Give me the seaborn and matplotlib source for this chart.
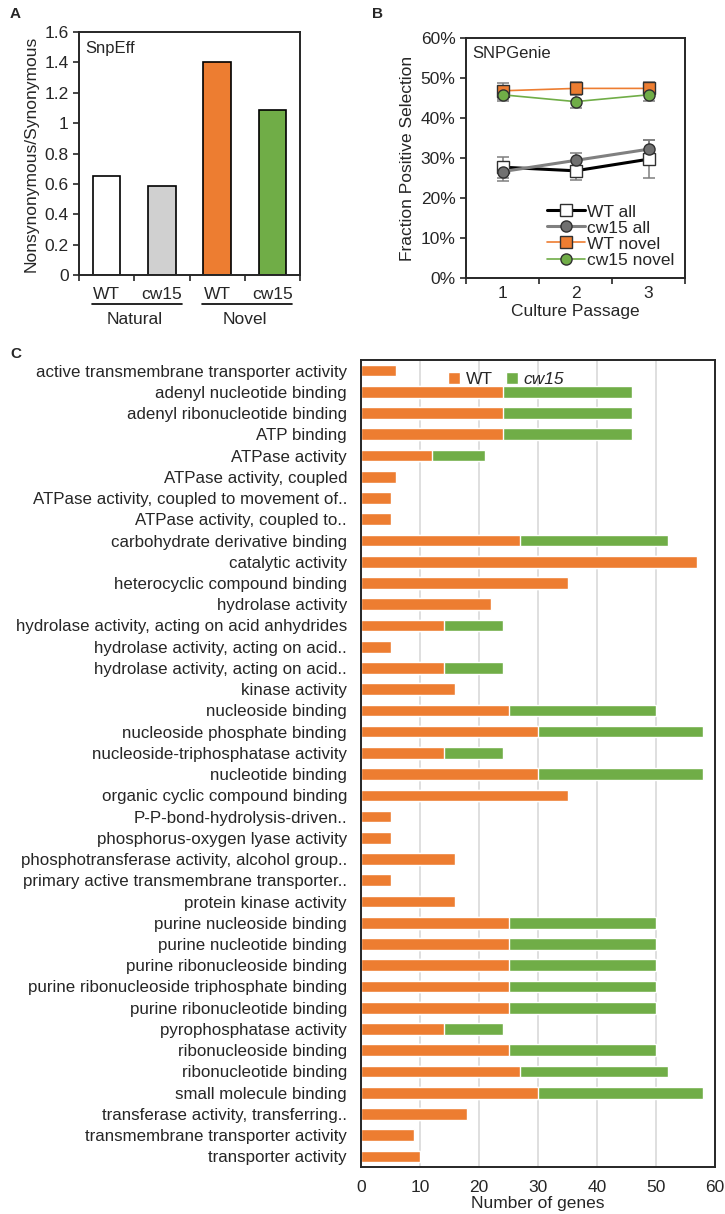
import numpy as np
import pandas as pd
import matplotlib
matplotlib.use("Agg")
import matplotlib.pyplot as plt
import matplotlib.transforms as mtransforms
from matplotlib.ticker import FuncFormatter, FixedLocator
import seaborn as sns

# ---------------------------------------------------------------------------
# Data
# ---------------------------------------------------------------------------

# Panel A: dN/dS ratio from SnpEff
a_bars = ["Natural WT", "Natural cw15", "Novel WT", "Novel cw15"]
a_strain = ["WT", "cw15", "WT", "cw15"]
a_groups = ["Natural", "Novel"]
a_values = [0.65, 0.585, 1.40, 1.085]

# Panel B: fraction of genes under positive selection (SNPGenie)
b_passage = [1, 2, 3]
b_series = ["WT all", "cw15 all", "WT novel", "cw15 novel"]
b_wt_all = [0.277, 0.268, 0.297]
b_wt_all_err = [0.026, 0.024, 0.047]
b_cw15_all = [0.266, 0.294, 0.322]
b_cw15_all_err = [0.023, 0.018, 0.023]
b_wt_novel = [0.468, 0.474, 0.474]
b_wt_novel_err = [0.020, 0.015, 0.015]
b_cw15_novel = [0.458, 0.441, 0.458]
b_cw15_novel_err = [0.016, 0.016, 0.016]

# Panel C: GO terms enriched among mutated genes
c_terms = [
    "active transmembrane transporter activity",
    "adenyl nucleotide binding",
    "adenyl ribonucleotide binding",
    "ATP binding",
    "ATPase activity",
    "ATPase activity, coupled",
    "ATPase activity, coupled to movement of..",
    "ATPase activity, coupled to..",
    "carbohydrate derivative binding",
    "catalytic activity",
    "heterocyclic compound binding",
    "hydrolase activity",
    "hydrolase activity, acting on acid anhydrides",
    "hydrolase activity, acting on acid..",
    "hydrolase activity, acting on acid..",
    "kinase activity",
    "nucleoside binding",
    "nucleoside phosphate binding",
    "nucleoside-triphosphatase activity",
    "nucleotide binding",
    "organic cyclic compound binding",
    "P-P-bond-hydrolysis-driven..",
    "phosphorus-oxygen lyase activity",
    "phosphotransferase activity, alcohol group..",
    "primary active transmembrane transporter..",
    "protein kinase activity",
    "purine nucleoside binding",
    "purine nucleotide binding",
    "purine ribonucleoside binding",
    "purine ribonucleoside triphosphate binding",
    "purine ribonucleotide binding",
    "pyrophosphatase activity",
    "ribonucleoside binding",
    "ribonucleotide binding",
    "small molecule binding",
    "transferase activity, transferring..",
    "transmembrane transporter activity",
    "transporter activity",
]
c_wt = [6, 24, 24, 24, 12, 6, 5, 5, 27, 57, 35, 22, 14, 5, 14, 16, 25, 30, 14,
        30, 35, 5, 5, 16, 5, 16, 25, 25, 25, 25, 25, 14, 25, 27, 30, 18, 9, 10]
c_cw15 = [0, 22, 22, 22, 9, 0, 0, 0, 25, 0, 0, 0, 10, 0, 10, 0, 25, 28, 10,
          28, 0, 0, 0, 0, 0, 0, 25, 25, 25, 25, 25, 10, 25, 25, 28, 0, 0, 0]

ORANGE = "#ED7D31"
GREEN = "#70AD47"

# ---------------------------------------------------------------------------
# Figure setup
# ---------------------------------------------------------------------------

sns.set_style("ticks")
plt.rcParams["font.family"] = ["Liberation Sans", "DejaVu Sans"]
plt.rcParams["axes.linewidth"] = 1.4

W, H = 725, 1214
fig = plt.figure(figsize=(W / 100, H / 100), dpi=100)


def px_axes(left, top, right, bottom):
    # Add an axes from pixel coordinates of the final image
    return fig.add_axes([left / W, 1 - bottom / H, (right - left) / W, (bottom - top) / H])


# ---------------------------------------------------------------------------
# Panel A
# ---------------------------------------------------------------------------

axA = px_axes(79, 32, 300, 275)
df_a = pd.DataFrame({"bar": a_bars, "value": a_values})
sns.barplot(data=df_a, x="bar", y="value", hue="bar",
            palette=["white", "#D0D0D0", ORANGE, GREEN], width=0.5, saturation=1,
            edgecolor="black", linewidth=1.2, legend=False, ax=axA)
axA.set_xlim(-0.5, 3.5)
axA.set_ylim(0, 1.6)
axA.set_yticks(np.arange(0, 1.61, 0.2))
axA.yaxis.set_major_formatter(FuncFormatter(lambda v, p: f"{v:g}"))
axA.xaxis.set_major_locator(FixedLocator([-0.5, 0.5, 1.5, 2.5, 3.5]))
axA.set_xticklabels([])
axA.set_xlabel("")
axA.set_ylabel("Nonsynonymous/Synonymous", fontsize=12.5, labelpad=4)
axA.tick_params(axis="both", labelsize=12.5, length=4, width=1.2)
axA.text(0.03, 0.965, "SnpEff", transform=axA.transAxes, fontsize=12, va="top")

trA = mtransforms.blended_transform_factory(axA.transData, axA.transAxes)
for i, s in enumerate(a_strain):
    axA.text(i, -0.082, s, transform=trA, ha="center", va="center", fontsize=12.5)
for g, name in enumerate(a_groups):
    x0, x1 = 2 * g - 0.27, 2 * g + 1.36
    axA.plot([x0, x1], [-0.12, -0.12], transform=trA, color="black", lw=1.2, clip_on=False)
    axA.text(2 * g + 0.5, -0.185, name, transform=trA, ha="center", va="center", fontsize=12.5)

# ---------------------------------------------------------------------------
# Panel B
# ---------------------------------------------------------------------------

axB = px_axes(466, 38, 685, 278)
b_values = [b_wt_all, b_cw15_all, b_wt_novel, b_cw15_novel]
b_errors = [b_wt_all_err, b_cw15_all_err, b_wt_novel_err, b_cw15_novel_err]
df_b = pd.DataFrame({
    "passage": np.tile(b_passage, len(b_series)),
    "fraction": np.concatenate(b_values),
    "series": np.repeat(b_series, len(b_passage)),
})
line_colors = ["black", "#808080", ORANGE, GREEN]
line_widths = [2.2, 2.2, 1.2, 1.2]
face_colors = ["white", "#707070", ORANGE, GREEN]
markers = ["s", "o", "s", "o"]

sns.lineplot(data=df_b, x="passage", y="fraction", hue="series", style="series",
             hue_order=b_series, style_order=b_series,
             palette=line_colors, markers=markers, dashes=False,
             markersize=8, markeredgecolor="#303030", markeredgewidth=1.0,
             ax=axB, zorder=3, legend=False)
for line, lw, fc in zip(list(axB.lines), line_widths, face_colors):
    line.set_linewidth(lw)
    line.set_markerfacecolor(fc)

# error bars drawn underneath the markers
for vals, errs in zip(b_values, b_errors):
    axB.errorbar(b_passage, vals, yerr=errs, fmt="none", ecolor="#7F7F7F",
                 elinewidth=1.1, capsize=4, capthick=1.1, zorder=2)

handles = [plt.Line2D([], [], color=c, lw=lw, marker=m, markersize=8,
                      markerfacecolor=fc, markeredgecolor="#303030")
           for c, lw, m, fc in zip(line_colors, line_widths, markers, face_colors)]
axB.legend(handles, b_series, loc="lower right", frameon=False, fontsize=12.5,
           handlelength=2.2, handletextpad=0.1, labelspacing=0.05,
           borderaxespad=0.2)

axB.set_xlim(0.5, 3.5)
axB.set_ylim(0, 0.6)
axB.set_yticks(np.arange(0, 0.61, 0.1))
axB.yaxis.set_major_formatter(FuncFormatter(lambda v, p: f"{v:.0%}"))
axB.xaxis.set_major_locator(FixedLocator([0.5, 1.5, 2.5, 3.5]))
axB.set_xticklabels([])
axB.set_xticks(b_passage, minor=True)
axB.set_xticklabels([str(p) for p in b_passage], minor=True)
axB.tick_params(axis="x", which="minor", length=0, labelsize=12.5, pad=6)
axB.tick_params(axis="both", which="major", labelsize=12.5, length=4, width=1.2)
axB.set_xlabel("Culture Passage", fontsize=12.5, labelpad=2)
axB.set_ylabel("Fraction Positive Selection", fontsize=12.5, labelpad=4)
axB.text(0.03, 0.965, "SNPGenie", transform=axB.transAxes, fontsize=12, va="top")

# ---------------------------------------------------------------------------
# Panel C
# ---------------------------------------------------------------------------

axC = px_axes(361, 360, 715, 1167)
c_total = [w + c for w, c in zip(c_wt, c_cw15)]
df_c = pd.DataFrame({"term": np.arange(len(c_terms)), "wt": c_wt, "total": c_total})

axC.grid(axis="x", color="#D9D9D9", lw=1.2, zorder=0)
axC.set_axisbelow(True)
sns.barplot(data=df_c, y="term", x="total", orient="h", color=GREEN,
            width=0.55, saturation=1, ax=axC, label="cw15")
sns.barplot(data=df_c, y="term", x="wt", orient="h", color=ORANGE,
            width=0.55, saturation=1, ax=axC, label="WT")

axC.set_yticks(range(len(c_terms)))
axC.set_yticklabels(c_terms)
axC.set_xlim(0, 60)
axC.set_xticks(range(0, 61, 10))
axC.set_ylim(len(c_terms) - 0.5, -0.5)
axC.tick_params(axis="y", length=0, labelsize=12.2, pad=10)
axC.tick_params(axis="x", length=0, labelsize=12.5, pad=9)
axC.set_ylabel("")
axC.set_xlabel("Number of genes", fontsize=12.5, labelpad=1)

h, l = axC.get_legend_handles_labels()
leg = axC.legend(h[::-1], l[::-1], loc="upper center", bbox_to_anchor=(0.41, 1.005),
                 ncol=2, frameon=False, fontsize=12.5, handlelength=0.7,
                 handleheight=0.7, handletextpad=0.3, columnspacing=0.8)
leg.get_texts()[1].set_fontstyle("italic")

# Panel letters
fig.text(10 / W, 1 - 14 / H, "A", fontsize=11, fontweight="bold", va="center")
fig.text(372 / W, 1 - 14 / H, "B", fontsize=11, fontweight="bold", va="center")
fig.text(10 / W, 1 - 354 / H, "C", fontsize=11, fontweight="bold", va="center")

fig.savefig("out.png", dpi=100)
plt.close(fig)
